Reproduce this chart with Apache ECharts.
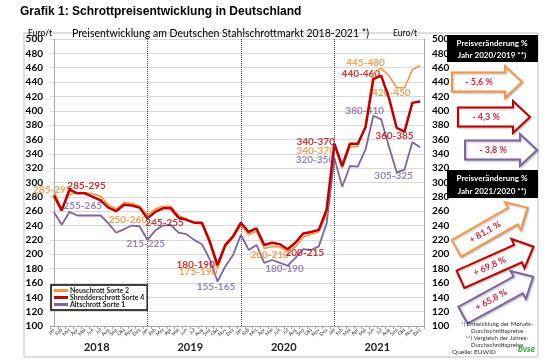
<!DOCTYPE html>
<html><head><meta charset="utf-8">
<script src="https://cdn.jsdelivr.net/npm/echarts@6/dist/echarts.min.js"></script>
<style>html,body{margin:0;padding:0;background:#fff;}#c{width:548px;height:362px;}</style>
</head><body><div id="c"></div>
<script>
const years = ['2018','2019','2020','2021'];
const monthNames = ['Jan','Feb','Mrz','Apr','Mai','Jun','Jul','Aug','Sep','Okt','Nov','Dez'];
const categories = [];
years.forEach(function(){ monthNames.forEach(function(m){ categories.push(m); }); });

const neuschrott = [
  288,264,283,286,286,284,281,269,263,272,271,267,
  255,263,267,267,254,249,244,242,215,180,210,223,
  240,227,232,208,211,210,204,210,224,228,231,256,
  352,320,350,350,380,452,459,449,432,432,457,463
];
const shredder = [
  282,261,290,285,285,280,275,265,260,269,268,265,
  250,259,264,264,251,248,244,244,218,185,213,225,
  244,231,236,213,216,214,207,216,229,231,234,262,
  354,323,354,354,377,444,449,418,376,371,411,413
];
const altschrott = [
  259,241,259,254,254,254,254,243,230,235,240,239,
  220,233,240,241,230,228,220,214,193,162,183,199,
  227,206,213,188,192,188,184,195,207,206,211,243,
  334,294,323,322,346,393,388,350,314,318,356,349
];
const seriesNames = ['Neuschrott Sorte 2','Shredderschrott Sorte 4','Altschrott Sorte 1'];
const yearStartIdx = [12,24,36];

// range annotations [category position, value, text]
const notesNeu = [[-0.2,290,'285-295'],[9.5,248,'250-260'],[18.5,175,'175-190'],[27.7,199,'200-210'],[33.6,344,'340-370'],[40,467,'445-480'],[43.3,425,'420-450']];
const notesShr = [[4.2,295,'285-295'],[14.2,244,'245-255'],[18.2,186,'180-190'],[32.2,202,'200-215'],[33.6,357,'340-370'],[39.4,451,'440-460'],[43.7,365,'360-385']];
const notesAlt = [[3.7,267,'255-265'],[11.8,214,'215-225'],[20.8,154,'155-165'],[29.6,180,'180-190'],[33.5,331,'320-350'],[39.9,400,'380-410'],[43.6,309,'305-325']];

const change2020 = ['- 5,6 %','- 4,3 %','- 3,8 %'];
const change2021 = ['+ 81,1 %','+ 69,8 %','+ 65,8 %'];

const colors = ['#F79646','#C00000','#8064A2'];
const FONT = 'Lato, "Open Sans", sans-serif';

function noteSeries(data, color){
  return {
    type:'scatter', xAxisIndex:1, yAxisIndex:0, data:data, symbolSize:0.1, silent:true,
    itemStyle:{color:'rgba(0,0,0,0)'},
    label:{show:true, position:'inside', formatter:function(p){return p.data[2];},
      color:color, fontSize:10, fontWeight:'bold', fontFamily:FONT}
  };
}

function arrowPts(L, bh, hh, hl){
  const x0=-L/2, x1=L/2-hl, x2=L/2;
  return [[x0,-bh/2],[x1,-bh/2],[x1,-hh/2],[x2,0],[x1,hh/2],[x1,bh/2],[x0,bh/2]];
}
function arrow(cx, cy, rot, color, text, L){
  return {
    type:'group', x:cx, y:cy, rotation:rot,
    children:[
      {type:'polygon', shape:{points:arrowPts(L,19,32,17)}, style:{fill:'#fff', stroke:color, lineWidth:2, shadowBlur:2, shadowColor:'rgba(0,0,0,0.25)', shadowOffsetX:1, shadowOffsetY:1}},
      {type:'text', x:-8, y:0, style:{text:text, fill:'#D9263B', font:'bold 9px '+FONT, textAlign:'center', textVerticalAlign:'middle'}}
    ]
  };
}

const chart = echarts.init(document.getElementById('c'));
const yAxisBase = {
  type:'value', min:100, max:500, interval:20,
  axisLine:{show:true, lineStyle:{color:'#a6a6a6'}},
  axisTick:{show:false},
  axisLabel:{color:'#000', fontSize:10, fontWeight:'bold', fontFamily:FONT, margin:7}
};
chart.setOption({
  animation:false,
  textStyle:{fontFamily:FONT},
  grid:{left:50, right:124, top:39, bottom:36, containLabel:false},
  legend:{
    data:seriesNames, left:51, top:285, orient:'vertical', itemGap:0,
    itemWidth:14, itemHeight:3, icon:'rect',
    padding:[2,3,2,3], borderColor:'#000', borderWidth:1.5, backgroundColor:'#fff',
    textStyle:{fontSize:7, fontWeight:'bold', color:'#222', fontFamily:FONT, padding:[0,0,0,-3]}
  },
  xAxis:[
    {type:'category', data:categories, boundaryGap:true,
     axisLine:{lineStyle:{color:'#a6a6a6'}},
     axisTick:{show:true, interval:0, length:3, lineStyle:{color:'#a6a6a6'}},
     axisLabel:{interval:0, rotate:45, fontSize:5, color:'#333', margin:3, fontFamily:FONT}},
    {type:'value', min:-0.5, max:47.5, show:false},
    {type:'category', data:years, position:'bottom', offset:14, boundaryGap:true,
     axisLine:{show:false}, axisTick:{show:false},
     axisLabel:{fontSize:11, fontWeight:'bold', color:'#222', margin:2, fontFamily:FONT}}
  ],
  yAxis:[
    Object.assign({}, yAxisBase, {position:'left', splitLine:{lineStyle:{color:'#d9d9d9'}}}),
    Object.assign({}, yAxisBase, {position:'right', splitLine:{show:false}, axisLabel:Object.assign({}, yAxisBase.axisLabel, {margin:8})})
  ],
  series:[
    {name:seriesNames[0], type:'line', data:neuschrott, symbol:'none', color:colors[0], lineStyle:{width:1.6, color:colors[0]}, z:3,
     markLine:{silent:true, symbol:'none', label:{show:false}, lineStyle:{color:'#555', type:'dotted', width:1},
       data:yearStartIdx.map(function(i){return {xAxis:i};})}},
    {name:seriesNames[1], type:'line', data:shredder, symbol:'none', color:colors[1], lineStyle:{width:2.5, color:colors[1]}, z:4},
    {name:seriesNames[2], type:'line', data:altschrott, symbol:'none', color:colors[2], lineStyle:{width:1.8, color:colors[2]}, z:2},
    noteSeries(notesNeu, '#F08A2C'),
    noteSeries(notesShr, colors[1]),
    noteSeries(notesAlt, colors[2])
  ],
  graphic:[
    {type:'rect', shape:{x:24, y:33, width:514, height:324}, style:{fill:'none', stroke:'#bfbfbf', lineWidth:1}, z:-10},
    {type:'text', left:20, top:6, style:{text:'Grafik 1: Schrottpreisentwicklung in Deutschland', font:'bold 12px "Liberation Sans", Arial, sans-serif', fill:'#000'}},
    {type:'text', left:28, top:29, style:{text:'Euro/t', font:'8.5px '+FONT, fill:'#000'}},
    {type:'text', left:393, top:29, style:{text:'Euro/t', font:'8.5px '+FONT, fill:'#000'}},
    {type:'text', left:72, top:28, style:{text:'Preisentwicklung am Deutschen Stahlschrottmarkt 2018-2021 *)', font:'10.5px '+FONT, fill:'#000'}},
    // right panel
    {type:'rect', shape:{x:447, y:35, width:91, height:27}, style:{fill:'#000'}},
    {type:'text', x:492, y:43, style:{text:'Preisveränderung %', font:'bold 8px '+FONT, fill:'#fff', textAlign:'center', textVerticalAlign:'middle'}},
    {type:'text', x:492, y:55, style:{text:'Jahr 2020/2019 **)', font:'bold 8px '+FONT, fill:'#fff', textAlign:'center', textVerticalAlign:'middle'}},
    arrow(487, 82, 0, colors[0], change2020[0], 70),
    arrow(494, 117, 0, colors[1], change2020[1], 72),
    arrow(501, 150, 0, colors[2], change2020[2], 72),
    {type:'rect', shape:{x:447, y:170, width:91, height:28}, style:{fill:'#000'}},
    {type:'text', x:492, y:178, style:{text:'Preisveränderung %', font:'bold 8px '+FONT, fill:'#fff', textAlign:'center', textVerticalAlign:'middle'}},
    {type:'text', x:492, y:191, style:{text:'Jahr 2021/2020 **)', font:'bold 8px '+FONT, fill:'#fff', textAlign:'center', textVerticalAlign:'middle'}},
    arrow(492, 228, 0.52, colors[0], change2021[0], 82),
    arrow(497, 263, 0.42, colors[1], change2021[1], 80),
    arrow(498, 296, 0.50, colors[2], change2021[2], 80),
    {type:'text', x:497, y:321, style:{text:'*) Entwicklung der Monats-\nDurchschnittspreise\n**) Vergleich der Jahres-\nDurchschnittspreise', font:'6px '+FONT, fill:'#333', textAlign:'center', lineHeight:7}},
    {type:'text', left:452, top:348, style:{text:'Quelle: EUWID', font:'6.5px '+FONT, fill:'#333'}},
    {type:'text', left:518, top:345, style:{text:'bvse', font:'italic bold 9px '+FONT, fill:'#2E9E3E'}}
  ]
});
</script></body></html>
